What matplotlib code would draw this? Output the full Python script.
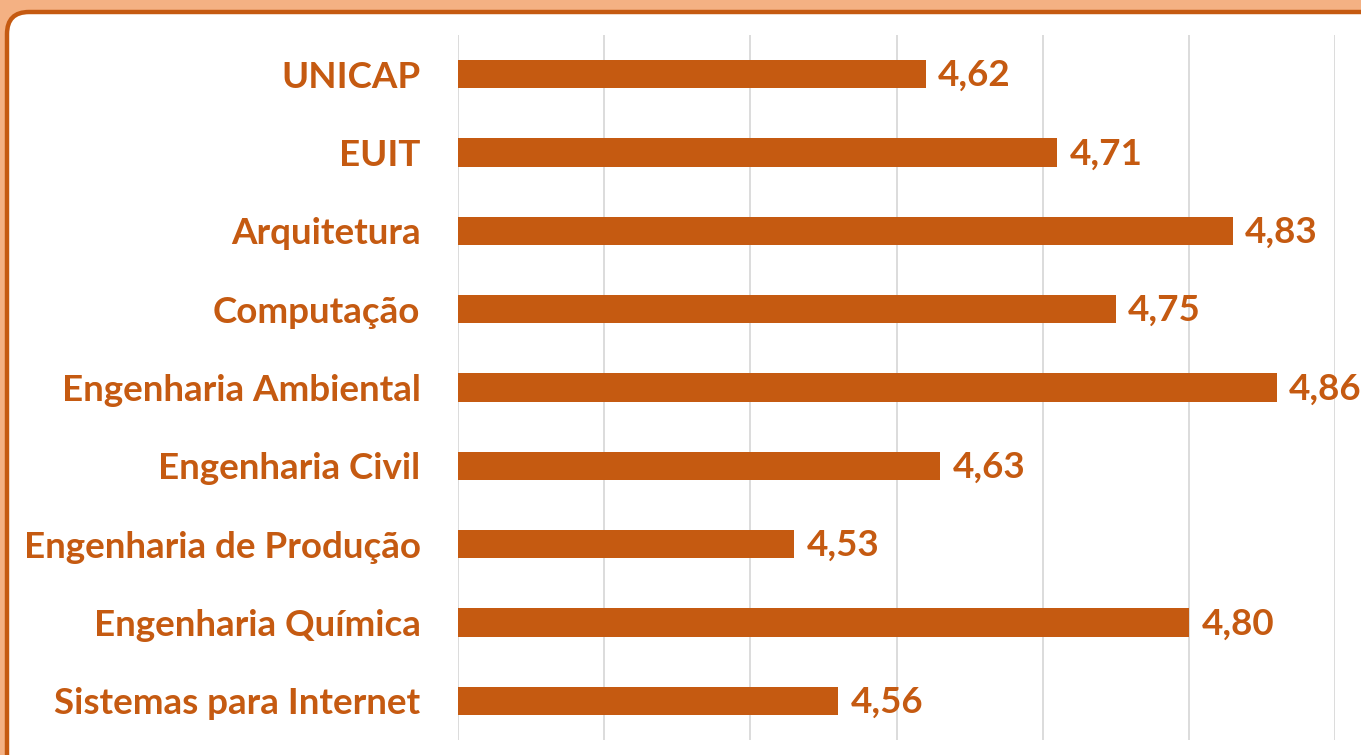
import matplotlib
matplotlib.use("Agg")
import matplotlib.pyplot as plt
from matplotlib.patches import FancyBboxPatch

categories = ["UNICAP", "EUIT", "Arquitetura", "Computação", "Engenharia Ambiental",
              "Engenharia Civil", "Engenharia de Produção", "Engenharia Química",
              "Sistemas para Internet"]
values = [4.62, 4.71, 4.83, 4.75, 4.86, 4.63, 4.53, 4.80, 4.56]
value_labels = ["4,62", "4,71", "4,83", "4,75", "4,86", "4,63", "4,53", "4,80", "4,56"]

W, H = 1361, 755
fig = plt.figure(figsize=(W / 100, H / 100), dpi=100)
fig.patch.set_facecolor("#F4B183")

BAR = "#C55A11"

# background axes in pixel units for the rounded panel
bg = fig.add_axes([0, 0, 1, 1], zorder=0)
bg.set_xlim(0, W)
bg.set_ylim(H, 0)
bg.axis("off")
panel = FancyBboxPatch((7, 12), 1400, 780,
                       boxstyle="round,pad=0,rounding_size=22",
                       facecolor="white", edgecolor=BAR, linewidth=3.2)
bg.add_patch(panel)

left, right, top, bottom = 458, 1335, 35, 740
ax = fig.add_axes([left / W, 1 - bottom / H, (right - left) / W, (bottom - top) / H], zorder=1)
ax.set_facecolor("none")

font = "Lato"
fs = 26.5
y = list(range(len(categories)))
ax.barh(y, [v - 4.3 for v in values], left=4.3, height=0.36, color=BAR, zorder=3)
ax.set_xlim(4.3, 4.9)
ax.set_ylim(len(categories) - 0.5, -0.5)
ax.set_xticks([4.3, 4.4, 4.5, 4.6, 4.7, 4.8, 4.9])
ax.set_xticklabels([])
ax.tick_params(axis="x", length=0)
ax.tick_params(axis="y", length=0, pad=27)
ax.grid(axis="x", color="#D9D9D9", linewidth=1.3, zorder=0)
for s in ax.spines.values():
    s.set_visible(False)
ax.set_yticks(y)
ax.set_yticklabels(categories, fontfamily=font, fontweight="bold", fontsize=fs, color=BAR)

for yi, v, lab in zip(y, values, value_labels):
    ax.annotate(lab, (v, yi), xytext=(9, -1), textcoords="offset points",
                va="center", ha="left", fontfamily=font, fontweight="bold",
                fontsize=fs, color=BAR, annotation_clip=False, clip_on=False)

fig.savefig("out.png", dpi=100, facecolor=fig.get_facecolor())
